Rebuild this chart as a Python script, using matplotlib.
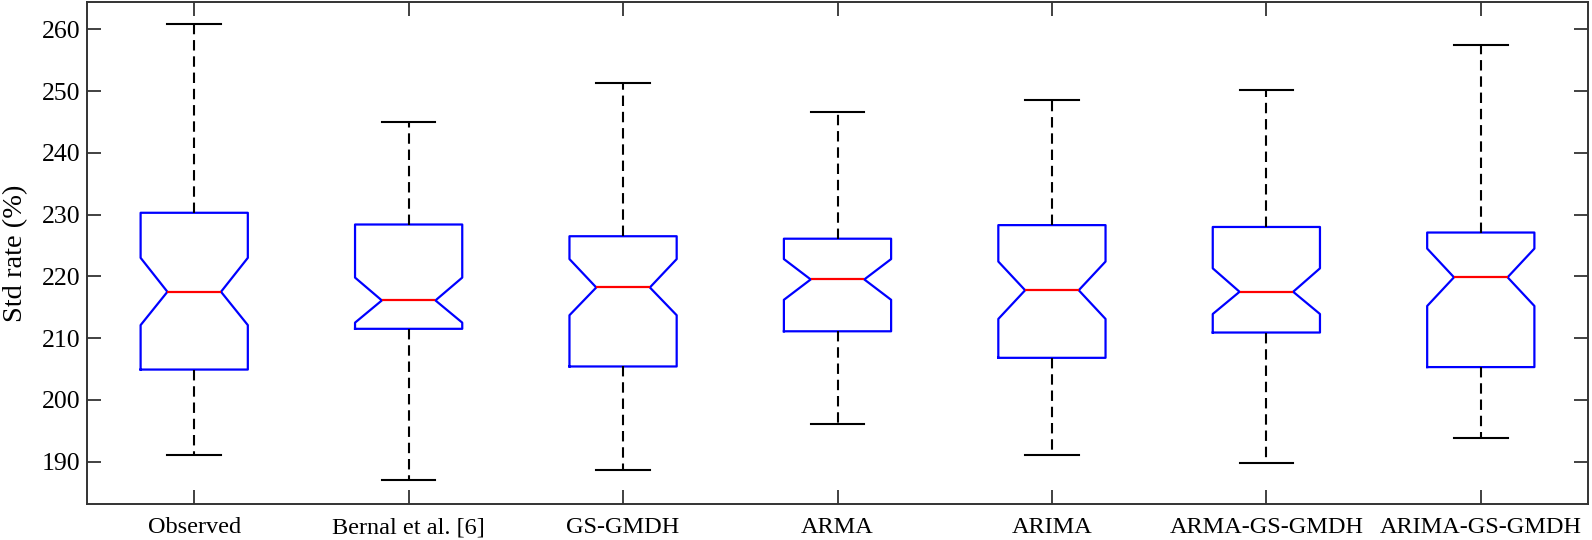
import matplotlib
matplotlib.use("Agg")
import matplotlib.pyplot as plt

categories = ["Observed", "Bernal et al. [6]", "GS-GMDH", "ARMA", "ARIMA",
              "ARMA-GS-GMDH", "ARIMA-GS-GMDH"]
whisker_high = [260.9, 245.0, 251.4, 246.6, 248.6, 250.2, 257.5]
q3_values    = [230.3, 228.4, 226.5, 226.1, 228.3, 228.0, 227.1]
notch_high   = [223.0, 219.8, 222.8, 222.8, 222.4, 221.3, 224.5]
medians      = [217.5, 216.1, 218.2, 219.5, 217.75, 217.5, 219.85]
notch_low    = [212.1, 212.5, 213.7, 216.2, 213.1, 213.9, 215.2]
q1_values    = [204.9, 211.5, 205.4, 211.1, 206.8, 210.9, 205.3]
whisker_low  = [191.0, 187.0, 188.7, 196.1, 191.1, 189.8, 193.75]
y_ticks = [190, 200, 210, 220, 230, 240, 250, 260]

plt.rcParams['font.family'] = ['Liberation Serif', 'DejaVu Serif']
plt.rcParams['lines.scale_dashes'] = False

fig = plt.figure(figsize=(15.92, 5.40), dpi=100)
ax = fig.add_axes([87 / 1592, 1 - 503.5 / 540, (1588 - 87) / 1592, (503.5 - 2.3) / 540])

stats = []
for i, name in enumerate(categories):
    stats.append(dict(label=name, med=medians[i], q1=q1_values[i], q3=q3_values[i],
                      whislo=whisker_low[i], whishi=whisker_high[i],
                      cilo=notch_low[i], cihi=notch_high[i], fliers=[]))

positions = list(range(1, len(categories) + 1))
ax.bxp(stats, positions=positions, widths=0.5, shownotches=True, showfliers=False,
       boxprops=dict(color=(0, 0, 1), linewidth=1.6),
       medianprops=dict(color=(1, 0, 0), linewidth=1.6),
       whiskerprops=dict(color='black', linewidth=1.5, linestyle=(0, (7.5, 4.2))),
       capprops=dict(color='black', linewidth=1.5),
       capwidths=0.25)

ax.set_xlim(0.5, 7.5)
ax.set_ylim(183.2, 264.4)
ax.set_yticks(y_ticks)
ax.set_xticks(positions)
ax.set_xticklabels(categories, fontsize=17.5)
ax.tick_params(axis='y', labelsize=18.5)
ax.tick_params(direction='in', length=10, width=1.3, color='#333333',
               top=True, right=True)
ax.tick_params(axis='x', pad=10)
ax.tick_params(axis='y', pad=5)
for s in ax.spines.values():
    s.set_color('#333333')
    s.set_linewidth(1.4)
ax.set_ylabel("Std rate (%)", fontsize=20.5)
ax.yaxis.set_label_coords(-0.039, 0.5)

fig.savefig("out.png", dpi=100)
